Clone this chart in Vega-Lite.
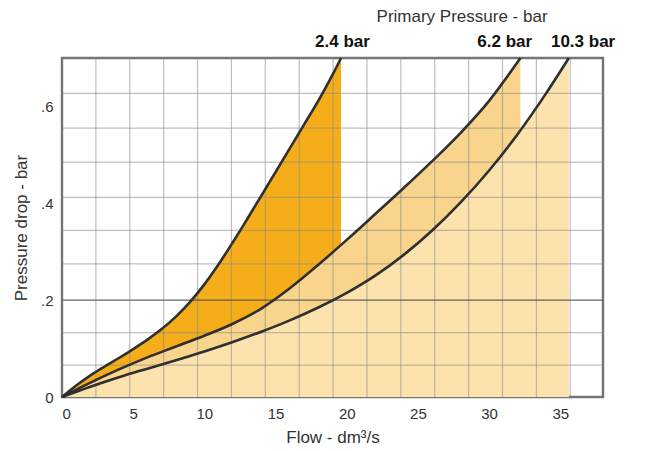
{
  "$schema": "https://vega.github.io/schema/vega-lite/v6.json",
  "width": 541,
  "height": 339,
  "autosize": {"type": "none"},
  "padding": {"left": 62, "top": 58, "right": 45, "bottom": 54},
  "background": "white",
  "datasets": {
    "curves": [
      {"series": "2.4 bar", "flow": 0, "dp": 0},
      {"series": "2.4 bar", "flow": 1, "dp": 0.0237},
      {"series": "2.4 bar", "flow": 2, "dp": 0.0447},
      {"series": "2.4 bar", "flow": 3, "dp": 0.063},
      {"series": "2.4 bar", "flow": 4, "dp": 0.0805},
      {"series": "2.4 bar", "flow": 5, "dp": 0.099},
      {"series": "2.4 bar", "flow": 6, "dp": 0.1185},
      {"series": "2.4 bar", "flow": 7, "dp": 0.1403},
      {"series": "2.4 bar", "flow": 8, "dp": 0.166},
      {"series": "2.4 bar", "flow": 9, "dp": 0.1965},
      {"series": "2.4 bar", "flow": 10, "dp": 0.2325},
      {"series": "2.4 bar", "flow": 11, "dp": 0.274},
      {"series": "2.4 bar", "flow": 12, "dp": 0.3195},
      {"series": "2.4 bar", "flow": 13, "dp": 0.367},
      {"series": "2.4 bar", "flow": 14, "dp": 0.4155},
      {"series": "2.4 bar", "flow": 15, "dp": 0.4645},
      {"series": "2.4 bar", "flow": 16, "dp": 0.5135},
      {"series": "2.4 bar", "flow": 17, "dp": 0.5625},
      {"series": "2.4 bar", "flow": 18, "dp": 0.6115},
      {"series": "2.4 bar", "flow": 19, "dp": 0.665},
      {"series": "2.4 bar", "flow": 19.6, "dp": 0.700},
      {"series": "6.2 bar", "flow": 0, "dp": 0},
      {"series": "6.2 bar", "flow": 2, "dp": 0.0298},
      {"series": "6.2 bar", "flow": 4, "dp": 0.0571},
      {"series": "6.2 bar", "flow": 6, "dp": 0.0819},
      {"series": "6.2 bar", "flow": 8, "dp": 0.1042},
      {"series": "6.2 bar", "flow": 10, "dp": 0.1265},
      {"series": "6.2 bar", "flow": 12, "dp": 0.1513},
      {"series": "6.2 bar", "flow": 14, "dp": 0.1826},
      {"series": "6.2 bar", "flow": 16, "dp": 0.2244},
      {"series": "6.2 bar", "flow": 18, "dp": 0.2729},
      {"series": "6.2 bar", "flow": 20, "dp": 0.3244},
      {"series": "6.2 bar", "flow": 22, "dp": 0.3777},
      {"series": "6.2 bar", "flow": 24, "dp": 0.4315},
      {"series": "6.2 bar", "flow": 26, "dp": 0.487},
      {"series": "6.2 bar", "flow": 28, "dp": 0.5455},
      {"series": "6.2 bar", "flow": 30, "dp": 0.6115},
      {"series": "6.2 bar", "flow": 32.2, "dp": 0.700},
      {"series": "10.3 bar", "flow": 0, "dp": 0},
      {"series": "10.3 bar", "flow": 2, "dp": 0.0212},
      {"series": "10.3 bar", "flow": 4, "dp": 0.0407},
      {"series": "10.3 bar", "flow": 6, "dp": 0.0585},
      {"series": "10.3 bar", "flow": 8, "dp": 0.0759},
      {"series": "10.3 bar", "flow": 10, "dp": 0.0941},
      {"series": "10.3 bar", "flow": 12, "dp": 0.1136},
      {"series": "10.3 bar", "flow": 14, "dp": 0.1348},
      {"series": "10.3 bar", "flow": 16, "dp": 0.1583},
      {"series": "10.3 bar", "flow": 18, "dp": 0.1849},
      {"series": "10.3 bar", "flow": 20, "dp": 0.2151},
      {"series": "10.3 bar", "flow": 22, "dp": 0.2507},
      {"series": "10.3 bar", "flow": 24, "dp": 0.2935},
      {"series": "10.3 bar", "flow": 26, "dp": 0.3437},
      {"series": "10.3 bar", "flow": 28, "dp": 0.4017},
      {"series": "10.3 bar", "flow": 30, "dp": 0.4677},
      {"series": "10.3 bar", "flow": 32, "dp": 0.5425},
      {"series": "10.3 bar", "flow": 34, "dp": 0.6269},
      {"series": "10.3 bar", "flow": 35.6, "dp": 0.700}
    ],
    "vgrid": [
      {"flow": 2.38}, {"flow": 4.76}, {"flow": 7.14}, {"flow": 9.52}, {"flow": 11.9},
      {"flow": 14.28}, {"flow": 16.66}, {"flow": 19.04}, {"flow": 21.42}, {"flow": 23.8},
      {"flow": 26.18}, {"flow": 28.56}, {"flow": 30.94}, {"flow": 33.32}, {"flow": 35.7}
    ],
    "hgrid": [
      {"dp": 0.066}, {"dp": 0.133}, {"dp": 0.2}, {"dp": 0.275}, {"dp": 0.344},
      {"dp": 0.412}, {"dp": 0.485}, {"dp": 0.555}, {"dp": 0.627}
    ],
    "labels": [
      {"text": "2.4 bar", "flow": 19.7, "dp": 0.723},
      {"text": "6.2 bar", "flow": 31.1, "dp": 0.723},
      {"text": "10.3 bar", "flow": 36.6, "dp": 0.723}
    ],
    "heading": [
      {"text": "Primary Pressure - bar", "flow": 28.1, "dp": 0.775}
    ]
  },
  "layer": [
    {
      "encoding": {
        "x": {
          "field": "flow", "type": "quantitative",
          "scale": {"domain": [0, 38], "nice": false, "zero": false},
          "axis": {
            "title": "Flow - dm³/s",
            "values": [0, 5, 10, 15, 20, 25, 30, 35],
            "grid": false, "ticks": false, "domain": false,
            "labelPadding": 9, "titlePadding": 8
          }
        },
        "y": {
          "field": "dp", "type": "quantitative",
          "scale": {"domain": [0, 0.7], "nice": false, "zero": false},
          "axis": {
            "title": "Pressure drop - bar",
            "values": [0, 0.2, 0.4, 0.6],
            "labelExpr": "datum.value == 0 ? '0' : replace(format(datum.value, '.1f'), '0.', '.')",
            "grid": false, "ticks": false, "domain": false,
            "labelPadding": 9, "titlePadding": 10
          }
        }
      },
      "layer": [
        {
          "data": {"name": "curves"},
          "transform": [{"filter": "datum.series === '2.4 bar'"}],
          "mark": {"type": "area", "color": "#F5AD1A", "interpolate": "monotone"}
        },
        {
          "data": {"name": "curves"},
          "transform": [{"filter": "datum.series === '6.2 bar'"}],
          "mark": {"type": "area", "color": "#F9D48C", "interpolate": "monotone"}
        },
        {
          "data": {"name": "curves"},
          "transform": [{"filter": "datum.series === '10.3 bar'"}],
          "mark": {"type": "area", "color": "#FCE3AE", "interpolate": "monotone"}
        }
      ]
    },
    {
      "data": {"name": "vgrid"},
      "mark": {"type": "rule", "color": "#8a8a8a", "strokeWidth": 1.2, "opacity": 0.55},
      "encoding": {
        "x": {"field": "flow", "type": "quantitative", "scale": {"domain": [0, 38], "nice": false, "zero": false}}
      }
    },
    {
      "data": {"name": "hgrid"},
      "mark": {"type": "rule", "strokeWidth": 1.2},
      "encoding": {
        "y": {"field": "dp", "type": "quantitative", "scale": {"domain": [0, 0.7], "nice": false, "zero": false}},
        "color": {"condition": {"test": "datum.dp == 0.2", "value": "#555555"}, "value": "#8a8a8a"},
        "opacity": {"condition": {"test": "datum.dp == 0.2", "value": 0.9}, "value": 0.55}
      }
    },
    {
      "encoding": {
        "x": {"field": "flow", "type": "quantitative", "scale": {"domain": [0, 38], "nice": false, "zero": false}},
        "y": {"field": "dp", "type": "quantitative", "scale": {"domain": [0, 0.7], "nice": false, "zero": false}}
      },
      "layer": [
        {
          "data": {"name": "curves"},
          "mark": {"type": "line", "color": "#2f2f2f", "strokeWidth": 2.6, "interpolate": "monotone"},
          "encoding": {"detail": {"field": "series"}}
        },
        {
          "data": {"name": "labels"},
          "mark": {"type": "text", "font": "Liberation Sans", "fontSize": 17, "fontWeight": "bold", "color": "#111111", "align": "center", "baseline": "alphabetic", "clip": false},
          "encoding": {"text": {"field": "text"}}
        },
        {
          "data": {"name": "heading"},
          "mark": {"type": "text", "font": "Liberation Sans", "fontSize": 17, "color": "#333333", "align": "center", "baseline": "alphabetic", "clip": false},
          "encoding": {"text": {"field": "text"}}
        }
      ]
    }
  ],
  "config": {
    "view": {"stroke": "#747474", "strokeWidth": 2.4},
    "axis": {
      "labelFont": "Liberation Sans",
      "labelFontSize": 15,
      "labelColor": "#333333",
      "titleFont": "Liberation Sans",
      "titleFontSize": 17,
      "titleFontWeight": "normal",
      "titleColor": "#333333"
    }
  }
}
